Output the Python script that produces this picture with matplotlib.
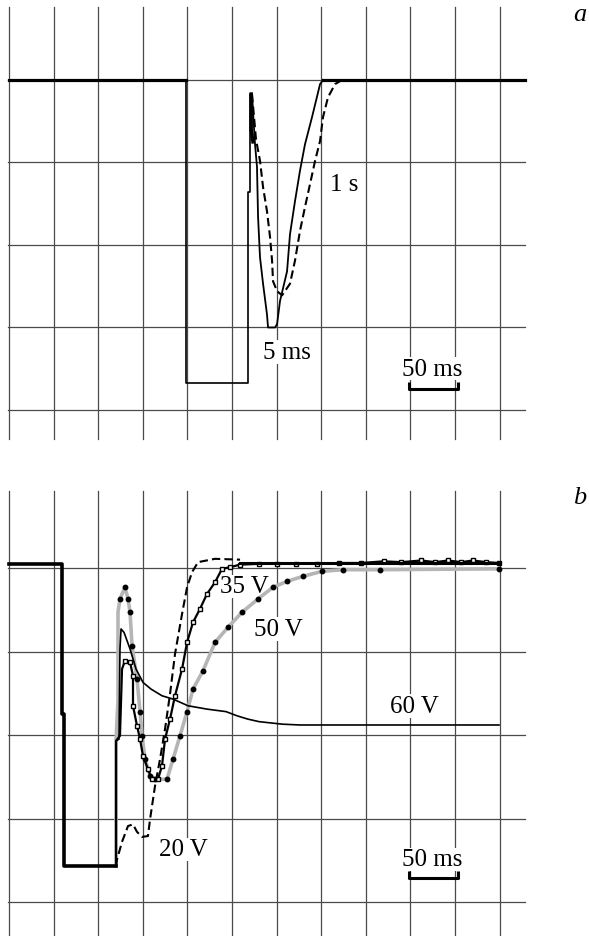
import matplotlib.pyplot as plt

plt.rcParams['font.family'] = ['Liberation Serif', 'DejaVu Serif']

# time in ms (50 ms per division), amplitude in divisions
grid_t = [0, 50, 100, 150, 200, 250, 300, 350, 400, 450, 500, 550]
grid_v = [0, -1, -2, -3, -4]

# panel a: input pulse and two responses
a_pulse_t = [198.4, 198.4, 268.0, 268.0, 270.2, 270.2, 272.4]
a_pulse_v = [0, -3.67, -3.67, -1.36, -1.36, -0.17, -0.17]

a_5ms_t = [272.4, 274.7, 275.8, 278.0, 279.2, 281.4, 284.8, 289.2, 290.4, 298.2,
           300.5, 303.8, 311.7, 315.0, 320.6, 326.2, 331.8, 339.7, 348.7, 352.0]
a_5ms_v = [-0.17, -0.59, -0.78, -1.05, -1.66, -2.15, -2.47, -2.84, -3.0, -3.0,
           -2.96, -2.68, -2.32, -1.87, -1.47, -1.10, -0.78, -0.45, -0.05, 0]

a_1s_t = [272.4, 276.9, 281.4, 284.8, 289.2, 292.6, 294.9, 296.0, 300.5, 306.1,
          315.0, 320.6, 326.2, 331.8, 337.5, 343.1, 348.7, 352.0, 357.6, 365.5, 373.3]
a_1s_v = [-0.17, -0.72, -0.98, -1.30, -1.59, -1.90, -2.19, -2.44, -2.56, -2.61,
          -2.47, -2.19, -1.83, -1.54, -1.26, -0.98, -0.74, -0.45, -0.21, -0.05, 0]

# panel b: input pulse and responses at 20, 35, 50, 60 V
b_base_t = [0, 59.4, 59.4, 61.5, 61.5, 120.0]
b_base_v = [0.05, 0.05, -1.75, -1.75, -3.57, -3.57]

b_60_t = [120.0, 120.0, 123.3, 124.4, 125.6, 128.9, 135.7, 142.4, 150.2, 159.2, 171.5,
          183.9, 200.7, 222.0, 243.3, 255.6, 267.9, 280.3, 306.1, 326.2, 549.3]
b_60_v = [-3.57, -2.07, -2.05, -0.97, -0.73, -0.77, -0.97, -1.21, -1.37, -1.45, -1.53,
          -1.57, -1.65, -1.69, -1.72, -1.77, -1.81, -1.84, -1.87, -1.88, -1.88]

b_35_t = [120.0, 120.0, 124.4, 126.7, 130.0, 135.7, 139.0, 139.0, 143.5, 146.9, 150.2,
          155.8, 160.3, 167.0, 171.5, 174.9, 180.5, 186.1, 194.0, 199.6, 206.3, 214.1,
          222.0, 231.0, 238.8, 247.8, 259.0, 280, 300, 322, 345, 370, 395, 420, 440,
          462, 478, 492, 507, 520, 535, 549.3]
b_35_v = [-3.57, -2.07, -2.01, -1.21, -1.11, -1.13, -1.29, -1.65, -1.89, -2.05, -2.25,
          -2.41, -2.53, -2.53, -2.37, -2.05, -1.81, -1.53, -1.21, -0.89, -0.65, -0.49,
          -0.31, -0.17, -0.01, 0.01, 0.04, 0.05, 0.05, 0.05, 0.05, 0.06, 0.06, 0.08, 0.07,
          0.09, 0.07, 0.09, 0.07, 0.09, 0.07, 0.06]

b_50_t = [120.0, 120.0, 122.2, 122.2, 124.4, 130.0, 133.4, 135.7, 137.9, 143.5, 146.9,
          149.1, 152.5, 158.1, 163.7, 177.1, 183.9, 191.7, 199.6, 206.3, 217.5, 231.0,
          245.5, 261.2, 279.2, 296.0, 311.7, 329.6, 350.9, 374.5, 415.9, 549.3]
b_50_v = [-3.57, -2.07, -1.58, -0.53, -0.37, -0.23, -0.37, -0.53, -0.93, -1.33, -1.72,
          -2.01, -2.29, -2.49, -2.53, -2.53, -2.29, -2.01, -1.72, -1.45, -1.23, -0.89,
          -0.71, -0.53, -0.37, -0.23, -0.16, -0.10, -0.04, -0.02, -0.02, -0.01]

b_20_t = [120.0, 121.1, 126.7, 133.4, 139.0, 143.5, 149.1, 155.8, 158.1, 163.7, 169.3,
          174.9, 180.5, 186.1, 194.0, 199.6, 205.2, 211.9, 230.9, 259.0]
b_20_v = [-3.57, -3.49, -3.28, -3.09, -3.07, -3.16, -3.22, -3.21, -3.01, -2.61, -2.29,
          -1.93, -1.51, -1.03, -0.55, -0.23, -0.05, 0.07, 0.11, 0.10]

fig = plt.figure(figsize=(5.89, 9.37), dpi=100)
ax_a = fig.add_axes([0, 472 / 937, 1, 465 / 937])
ax_b = fig.add_axes([0, 0, 1, 472 / 937])

gcol = '#4a4a4a'


def draw_grid(ax, vtop, vbot):
    for t in grid_t:
        ax.plot([t, t], [vbot, vtop], color=gcol, lw=0.9, zorder=1)
    for v in grid_v:
        ax.plot([-1, 578.5], [v, v], color=gcol, lw=0.9, zorder=1)


def scale_bar(ax, vtext, vbar):
    ax.text(474, vtext, '50 ms', fontsize=18, ha='center', va='center',
            bbox=dict(facecolor='white', edgecolor='none', pad=0.5), zorder=3)
    ax.plot([448, 448, 503, 503], [vbar + 0.08, vbar, vbar, vbar + 0.08],
            color='black', lw=2.2, solid_capstyle='butt', zorder=4)


# ---- panel a ----
ax = ax_a
ax.set_xlim(-10.09, 650.2)
ax.set_ylim(-4.655, 0.982)
draw_grid(ax, 0.885, -4.35)
ax.plot([0, 198.4], [0, 0], color='black', lw=2.3, zorder=4)
ax.plot([352, 578.5], [0, 0], color='black', lw=2.3, zorder=4)
ax.plot(a_pulse_t, a_pulse_v, color='black', lw=1.2, zorder=4)
ax.plot([271.5, 271.5, 273.5], [-0.17, -0.6, -0.75], color='black', lw=2.5, zorder=4)
ax.plot(a_5ms_t, a_5ms_v, color='black', lw=1.3, zorder=4)
ax.plot(a_1s_t, a_1s_v, color='black', lw=1.5, ls=(0, (4, 2)), zorder=4)
ax.text(375.6, -1.26, '1 s', fontsize=18, ha='center', va='center',
        bbox=dict(facecolor='white', edgecolor='none', pad=0.5), zorder=3)
ax.text(311.7, -3.30, '5 ms', fontsize=18, ha='center', va='center',
        bbox=dict(facecolor='white', edgecolor='none', pad=0.5), zorder=3)
scale_bar(ax, -3.50, -3.745)
ax.text(640, 0.80, 'a', fontsize=19, style='italic', ha='center', va='center')
ax.axis('off')

# ---- panel b ----
ax = ax_b
ax.set_xlim(-10.09, 650.2)
ax.set_ylim(-4.407, 1.2455)
draw_grid(ax, 0.92, -4.6)
ax.plot(b_base_t, b_base_v, color='black', lw=2.6, zorder=6)
ax.plot(b_50_t, b_50_v, color='#b5b5b5', lw=2.6, zorder=4,
        marker='o', ms=3.2, mfc='black', mec='black', markevery=slice(4, None))
ax.plot(b_60_t, b_60_v, color='black', lw=1.2, zorder=5)
ax.plot(b_35_t, b_35_v, color='black', lw=1.6, zorder=5,
        marker='s', ms=3.2, mfc='white', mec='black', mew=1.0, markevery=slice(4, None))
ax.plot([259.0, 549.3], [0.06, 0.06], color='black', lw=2.2, zorder=5)
ax.plot(b_20_t, b_20_v, color='black', lw=1.5, ls=(0, (4, 2)), zorder=5)
for label, tx, ty in [('35 V', 263.5, -0.22), ('50 V', 301.6, -0.73),
                      ('60 V', 454.0, -1.65), ('20 V', 195.1, -3.37)]:
    ax.text(tx, ty, label, fontsize=18, ha='center', va='center',
            bbox=dict(facecolor='white', edgecolor='none', pad=0.5), zorder=3)
scale_bar(ax, -3.49, -3.71)
ax.text(640, 0.85, 'b', fontsize=19, style='italic', ha='center', va='center')
ax.axis('off')

fig.savefig('out.png', dpi=100)
